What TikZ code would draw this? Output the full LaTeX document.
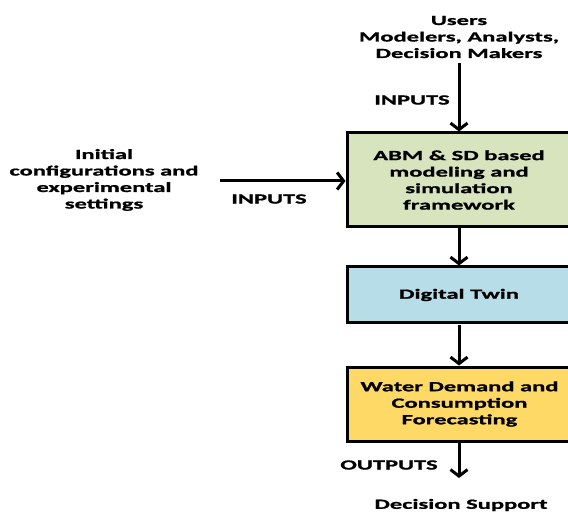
\documentclass[tikz,border=0pt]{standalone}
\usepackage{fontspec}
\usetikzlibrary{arrows.meta}
\newfontfamily\lblfont{Carlito}[FakeStretch=1.75, BoldFeatures={FakeBold=1.2}]
\definecolor{boxgreen}{RGB}{215,228,189}
\definecolor{boxblue}{RGB}{183,222,232}
\definecolor{boxyellow}{RGB}{255,217,102}
\tikzset{
  txt/.style={align=center, font=\lblfont\bfseries\fontsize{14}{16.5}\selectfont, inner sep=0pt},
  blk/.style={draw=black, line width=3pt, minimum width=224pt, txt},
  arr/.style={line width=3pt, -{Straight Barb[length=6.5pt,width=17pt]}}
}
\begin{document}
\begin{tikzpicture}[x=1pt,y=-1pt]
\useasboundingbox (0,0) rectangle (568,513);
\clip (0,0) rectangle (568,513);
\node[blk, fill=boxgreen, minimum height=94pt] (abm) at (459,180) {ABM \& SD based\\modeling and\\simulation\\framework};
\node[blk, fill=boxblue, minimum height=56pt] (dt) at (459,295) {Digital Twin};
\node[blk, fill=boxyellow, minimum height=74pt] (wd) at (459.5,404) {Water Demand and\\Consumption\\Forecasting};
\node[txt] (users) at (459,37) {Users\\Modelers, Analysts,\\Decision Makers};
\node[txt] (init) at (104,180) {Initial\\configurations and\\experimental\\settings};
\node[txt] (in1) at (412,100) {INPUTS};
\node[txt] (in2) at (269,199) {INPUTS};
\node[txt] (out) at (389,465) {OUTPUTS};
\node[txt] (ds) at (461,505) {Decision Support};
\coordinate (ustart) at (459,63);
\coordinate (lstart) at (220,181);
\coordinate (bend) at (459,478);
\draw[arr] (ustart) -- (ustart |- abm.north);
\draw[arr] (lstart) -- (lstart -| abm.west);
\draw[arr] (abm.south) -- (dt.north);
\draw[arr] (dt.south) -- (dt.south |- wd.north);
\draw[arr] (wd.south -| bend) -- (bend);
\end{tikzpicture}
\end{document}
